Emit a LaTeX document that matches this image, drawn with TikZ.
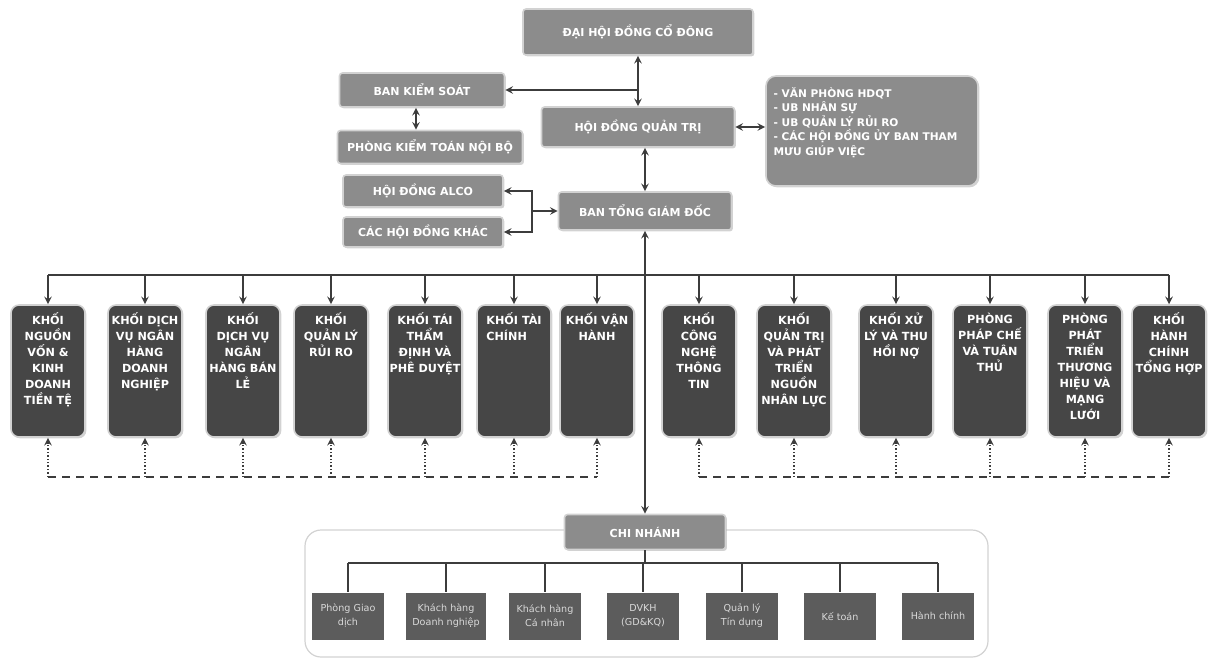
\documentclass[tikz,border=0pt]{standalone}
\usepackage{fontspec}
\setmainfont{DejaVu Sans}
\usepackage{tikz}
\usetikzlibrary{shadows}
\definecolor{mid}{RGB}{140, 140, 140}
\definecolor{dark}{RGB}{70, 70, 70}
\definecolor{base}{RGB}{92, 92, 92}
\definecolor{rim}{RGB}{210, 210, 210}
\definecolor{wire}{RGB}{60, 60, 60}

\begin{document}
\begin{tikzpicture}[x=0.5pt, y=-0.5pt, >=stealth,
  link/.style={line width=0.7pt, draw=wire},
  topbox/.style={rectangle, rounded corners=1.5pt, fill=mid, draw=rim, line width=0.8pt,
    text=white, font=\bfseries\fontsize{5.5}{6.5}\selectfont,
    drop shadow={shadow xshift=0.7pt, shadow yshift=-0.7pt, opacity=0.35}},
  khoi/.style={rectangle, rounded corners=4pt, fill=dark, draw=rim, line width=0.8pt,
    minimum width=37pt, minimum height=66pt,
    drop shadow={shadow xshift=0.7pt, shadow yshift=-0.7pt, opacity=0.35}},
  khoitxt/.style={anchor=north, yshift=-4pt, inner sep=0pt, text=white,
    font=\bfseries\fontsize{5.6}{8}\selectfont},
  notetxt/.style={anchor=north west, xshift=4pt, yshift=-6pt, inner sep=0pt, text=white,
    align=left, font=\bfseries\fontsize{5.3}{7.2}\selectfont},
  cnbox/.style={rectangle, fill=base, minimum width=36pt, minimum height=23.5pt,
    align=center, text=white!85!black, font=\fontsize{4.8}{7}\selectfont},
]
  \useasboundingbox (0, 0) rectangle (1209, 661);

  \node[topbox, minimum width=115pt, minimum height=23pt] (dhdcd) at (638, 32) {ĐẠI HỘI ĐỒNG CỔ ĐÔNG};
  \node[topbox, minimum width=82.5pt, minimum height=17pt] (bks) at (422, 90) {BAN KIỂM SOÁT};
  \node[topbox, minimum width=96.5pt, minimum height=20pt] (hdqt) at (638, 127) {HỘI ĐỒNG QUẢN TRỊ};
  \node[topbox, minimum width=92.5pt, minimum height=16.5pt] (pktnb) at (430, 147) {PHÒNG KIỂM TOÁN NỘI BỘ};
  \node[topbox, minimum width=80pt, minimum height=16pt] (alco) at (423, 191) {HỘI ĐỒNG ALCO};
  \node[topbox, minimum width=80pt, minimum height=15pt] (khac) at (423, 232) {CÁC HỘI ĐỒNG KHÁC};
  \node[topbox, minimum width=86.5pt, minimum height=19pt] (btgd) at (645, 211) {BAN TỔNG GIÁM ĐỐC};
  \node[topbox, rounded corners=5pt, minimum width=106pt, minimum height=55pt,
    label={[notetxt]north west:{- VĂN PHÒNG HDQT\\- UB NHÂN SỰ\\- UB QUẢN LÝ RỦI RO\\- CÁC HỘI ĐỒNG ỦY BAN THAM\\MƯU GIÚP VIỆC}}]
    (note) at (872, 131) {};

  \draw[link, <->] (dhdcd.south) -- (hdqt.north);
  \draw[link, ->] (dhdcd.south |- bks) -- (bks.east);
  \draw[link, <->] (bks.south -| 416, 0) -- (pktnb.north -| 416, 0);
  \draw[link, <->] (hdqt.south -| btgd) -- (btgd.north);
  \draw[link, <->] (hdqt.east) -- (hdqt.east -| note.west);
  \coordinate (brk) at (532, 211);
  \draw[link, <->] (alco.east) -| (brk) |- (khac.east);
  \draw[link, ->] (brk) -- (brk -| btgd.west);

  %
  \coordinate (bus) at (0, 275);
  \coordinate (dash) at (0, 477);
  \foreach \i/\x/\a/\t in {
    1/48/center/{KHỐI\\NGUỒN\\VỐN \&\\KINH\\DOANH\\TIỀN TỆ},
    2/145/center/{KHỐI DỊCH\\VỤ NGÂN\\HÀNG\\DOANH\\NGHIỆP},
    3/243/center/{KHỐI\\DỊCH VỤ\\NGÂN\\HÀNG BÁN\\LẺ},
    4/331/center/{KHỐI\\QUẢN LÝ\\RỦI RO},
    5/425/center/{KHỐI TÁI\\THẨM\\ĐỊNH VÀ\\PHÊ DUYỆT},
    6/514/left/{KHỐI TÀI\\CHÍNH},
    7/597/center/{KHỐI VẬN\\HÀNH},
    8/699/center/{KHỐI\\CÔNG\\NGHỆ\\THÔNG\\TIN},
    9/794/center/{KHỐI\\QUẢN TRỊ\\VÀ PHÁT\\TRIỂN\\NGUỒN\\NHÂN LỰC},
    10/896/center/{KHỐI XỬ\\LÝ VÀ THU\\HỒI NỢ},
    11/990/center/{PHÒNG\\PHÁP CHẾ\\VÀ TUÂN\\THỦ},
    12/1085/center/{PHÒNG\\PHÁT\\TRIỂN\\THƯƠNG\\HIỆU VÀ\\MẠNG\\LƯỚI},
    13/1169/center/{KHỐI\\HÀNH\\CHÍNH\\TỔNG HỢP}} {
    \node[khoi, label={[khoitxt, align=\a]north:\t}] (khoi\i) at (\x, 371) {};
    \draw[link, ->] (khoi\i.north |- bus) -- (khoi\i.north);
    \draw[link, ->, densely dotted] (khoi\i.south |- dash) -- (khoi\i.south);
  }
  \draw[link] (khoi1.north |- bus) -- (khoi13.north |- bus);
  \draw[link, dash pattern=on 4pt off 3pt] (khoi1.south |- dash) -- (khoi7.south |- dash);
  \draw[link, dash pattern=on 4pt off 3pt] (khoi8.south |- dash) -- (khoi13.south |- dash);

  %
  \draw[rim, line width=0.6pt, rounded corners=8pt] (305, 530) rectangle (988, 657);
  \node[topbox, minimum width=80.5pt, minimum height=17.5pt] (chinhanh) at (645, 532) {CHI NHÁNH};
  \draw[link, <->] (btgd.south) -- (chinhanh.north);

  \coordinate (busb) at (0, 563);
  \foreach \i/\x/\t in {1/348/{Phòng Giao\\dịch}, 2/446/{Khách hàng\\Doanh nghiệp},
    3/545/{Khách hàng\\Cá nhân}, 4/643/{DVKH\\(GD\&KQ)}, 5/742/{Quản lý\\Tín dụng},
    6/840/{Kế toán}, 7/938/{Hành chính}} {
    \node[cnbox] (cn\i) at (\x, 616) {\t};
    \draw[link] (cn\i.north |- busb) -- (cn\i.north);
  }
  \draw[link] (cn1.north |- busb) -- (cn7.north |- busb);
  \draw[link] (chinhanh.south) -- (chinhanh.south |- busb);

\end{tikzpicture}
\end{document}
